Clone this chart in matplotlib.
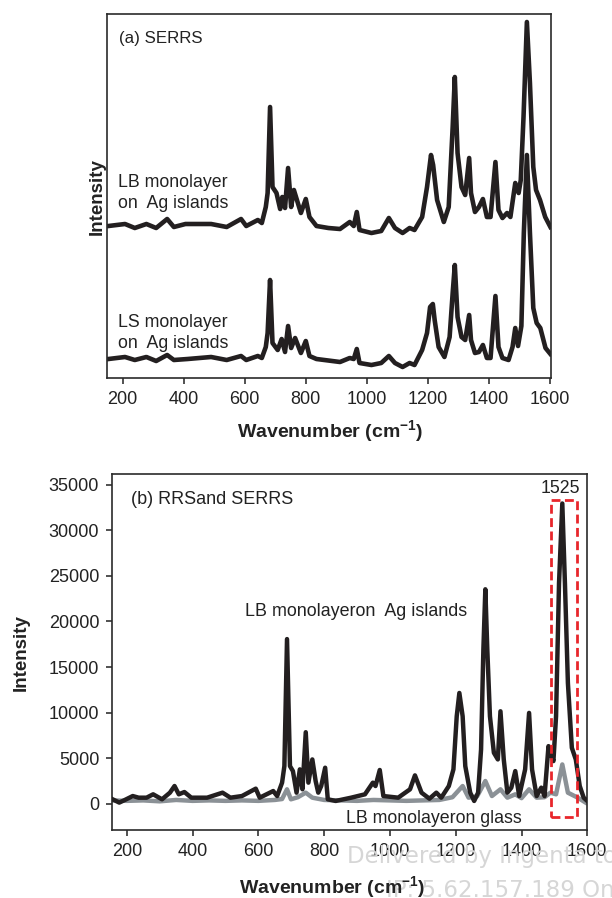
import matplotlib
matplotlib.use("Agg")
import matplotlib.pyplot as plt
from matplotlib.patches import Rectangle

plt.rcParams['font.family'] = ['Liberation Sans', 'DejaVu Sans']
plt.rcParams['mathtext.fontset'] = 'custom'
plt.rcParams['mathtext.rm'] = 'Liberation Sans'
plt.rcParams['mathtext.bf'] = 'Liberation Sans:bold'

# ---------------- data: panel (a) SERRS (arbitrary intensity units) ----------------
a_lb_wn = [154, 208, 240, 278, 310, 346, 368, 406, 490, 541, 588, 605, 643, 656, 669,
           675, 683, 691, 704, 716, 723, 732, 742, 752, 761, 771, 784, 800, 812, 835,
           874, 912, 944, 957, 967, 976, 1015, 1047, 1072, 1092, 1117, 1140, 1156, 1181, 1197,
           1210, 1217, 1230, 1252, 1268, 1281, 1288, 1297, 1310, 1322, 1335, 1341, 1354, 1367, 1380,
           1393, 1405, 1421, 1431, 1444, 1459, 1470, 1486, 1497, 1504, 1513, 1524, 1534, 1545, 1554,
           1567, 1584, 1601]
a_lb_int = [152, 154, 150, 154, 150, 159, 151, 154, 154, 151, 159, 152, 158, 155, 171,
            185, 271, 191, 185, 169, 181, 170, 210, 171, 188, 178, 165, 179, 161, 152,
            150, 149, 156, 152, 166, 148, 145, 147, 160, 150, 145, 150, 148, 161, 191,
            223, 213, 178, 156, 171, 251, 301, 225, 191, 183, 220, 185, 166, 171, 179,
            161, 161, 216, 168, 160, 165, 161, 195, 185, 198, 261, 356, 295, 211, 188,
            178, 161, 151]

a_ls_wn = [154, 208, 240, 278, 310, 346, 368, 413, 490, 541, 588, 605, 643, 656, 669,
           675, 683, 691, 708, 721, 732, 742, 752, 765, 784, 800, 812, 835, 912, 944,
           957, 967, 976, 1015, 1047, 1072, 1092, 1117, 1140, 1156, 1181, 1197, 1207, 1216, 1222,
           1235, 1254, 1271, 1281, 1288, 1297, 1310, 1322, 1335, 1341, 1354, 1367, 1380, 1393, 1405,
           1421, 1431, 1444, 1464, 1477, 1486, 1495, 1506, 1514, 1524, 1534, 1545, 1556, 1568, 1585,
           1601]
a_ls_int = [19, 21, 18, 21, 17, 23, 18, 19, 21, 18, 22, 18, 22, 20, 31,
            45, 98, 35, 28, 39, 26, 52, 30, 40, 25, 37, 22, 19, 16, 20,
            19, 29, 15, 13, 15, 22, 15, 11, 15, 13, 28, 45, 71, 74, 58,
            31, 21, 41, 85, 113, 61, 41, 38, 63, 38, 25, 26, 33, 20, 20,
            82, 31, 20, 18, 31, 50, 32, 52, 145, 223, 145, 70, 55, 50, 30,
            24]

# ---------------- data: panel (b) RRS and SERRS ----------------
b_ag_wn = [157, 177, 194, 218, 236, 260, 280, 307, 331, 345, 358, 375, 396, 444, 491,
           515, 550, 592, 604, 645, 657, 672, 679, 687, 696, 705, 716, 726, 734, 744,
           752, 764, 774, 782, 791, 803, 811, 835, 882, 924, 948, 956, 969, 980, 1025,
           1061, 1076, 1096, 1120, 1141, 1156, 1179, 1193, 1203, 1211, 1221, 1229, 1244, 1256, 1268,
           1277, 1284, 1290, 1296, 1304, 1316, 1328, 1336, 1346, 1357, 1369, 1381, 1393, 1411, 1423,
           1432, 1446, 1460, 1470, 1482, 1488, 1497, 1505, 1514, 1524, 1532, 1541, 1553, 1565, 1577,
           1589, 1600]
b_ag_int = [470, 110, 400, 830, 650, 650, 1020, 470, 1200, 1930, 1020, 1270, 650, 650, 1200,
            650, 830, 1640, 650, 1380, 830, 2300, 4120, 18070, 4120, 3570, 1200, 3760, 1570, 7840,
            2300, 4850, 2480, 1200, 1930, 3940, 470, 290, 650, 1020, 2300, 1930, 3690, 830, 650,
            1570, 3100, 1200, 540, 1200, 650, 1930, 3760, 9590, 12150, 9590, 4120, 1200, 290, 1200,
            5950, 16900, 23540, 16900, 9590, 5580, 4850, 10140, 4850, 1200, 1750, 3570, 830, 3760, 9960,
            3760, 830, 1750, 830, 6310, 5580, 4670, 9590, 24200, 32960, 24200, 13250, 6130, 4850, 1930,
            650, 290]

b_glass_wn = [157, 200, 250, 300, 350, 400, 450, 500, 550, 600, 650, 672, 687, 699, 720,
              744, 764, 800, 850, 900, 950, 1000, 1050, 1100, 1150, 1190, 1221, 1239, 1265, 1290,
              1310, 1336, 1357, 1381, 1400, 1423, 1446, 1470, 1488, 1505, 1524, 1541, 1571, 1595]
b_glass_int = [350, 300, 350, 250, 400, 300, 350, 300, 350, 300, 400, 500, 1570, 470, 700,
               1200, 650, 400, 350, 300, 400, 350, 300, 350, 400, 700, 1930, 650, 800, 2480,
               830, 1570, 650, 1020, 600, 1570, 650, 700, 1200, 1020, 4300, 1200, 650, 110]

x_ticks = [200, 400, 600, 800, 1000, 1200, 1400, 1600]
y_ticks_b = [0, 5000, 10000, 15000, 20000, 25000, 30000, 35000]
box_range = [1490, 1570]
box_int = [-1500, 33300]

# ---------------- figure ----------------
W, H = 612, 898
fig = plt.figure(figsize=(W / 100, H / 100), dpi=100)

def ax_rect(l, t, r, b):
    return [l / W, 1 - b / H, (r - l) / W, (b - t) / H]

black = '#231f20'
gray = '#8b9196'
frame = '#2a2a2a'
txt = '#222222'
tick_fs = 13

axA = fig.add_axes(ax_rect(107.3, 14, 550.7, 378))
axA.plot(a_lb_wn, a_lb_int, color=black, lw=3.3, solid_joinstyle='round')
axA.plot(a_ls_wn, a_ls_int, color=black, lw=3.3, solid_joinstyle='round')
axA.set_xlim(150, 1602)
axA.set_ylim(0, 364)
axA.set_yticks([])
axA.set_xticks(x_ticks)
axA.tick_params(axis='x', direction='out', length=4, width=1.1, pad=5,
                labelsize=tick_fs, colors=txt)
for s in axA.spines.values():
    s.set_linewidth(1.2)
    s.set_color(frame)
axA.text(188, 334.7, '(a) SERRS', fontsize=12.2, color=txt, va='baseline')
axA.text(186, 191.3, 'LB monolayer', fontsize=12.8, color=txt, va='baseline')
axA.text(186, 169.7, 'on  Ag islands', fontsize=12.8, color=txt, va='baseline')
axA.text(186, 51.3, 'LS monolayer', fontsize=12.8, color=txt, va='baseline')
axA.text(186, 29.7, 'on  Ag islands', fontsize=12.8, color=txt, va='baseline')
fig.text(97.7 / W, 1 - 196.7 / H, 'Intensity', rotation=90, fontsize=13.5,
         fontweight='bold', ha='center', va='center', color=txt)
fig.text(329.7 / W, 1 - 438.3 / H, r'Wavenumber (cm$^{\mathbf{-1}}$)', fontsize=14,
         fontweight='bold', ha='center', va='baseline', color=txt, zorder=5)

axB = fig.add_axes(ax_rect(111.7, 474, 587.3, 830))
axB.plot(b_glass_wn, b_glass_int, color=gray, lw=3.2, solid_joinstyle='round', zorder=2)
axB.plot(b_ag_wn, b_ag_int, color=black, lw=3.2, solid_joinstyle='round', zorder=3)
axB.set_xlim(154, 1600)
axB.set_ylim(-2900, 36200)
axB.set_xticks(x_ticks)
axB.set_yticks(y_ticks_b)
axB.tick_params(direction='out', length=4, width=1.1, pad=5,
                labelsize=tick_fs, colors=txt)
for s in axB.spines.values():
    s.set_linewidth(1.2)
    s.set_color(frame)
axB.add_patch(Rectangle((box_range[0], box_int[0]), box_range[1] - box_range[0],
                        box_int[1] - box_int[0], fill=False, edgecolor='#e8262b',
                        lw=2.0, linestyle=(0, (3.2, 1.6)), zorder=4))
axB.text(212.5, 32880, '(b) RRSand SERRS', fontsize=13, color=txt, va='baseline')
axB.text(559.6, 20650, 'LB monolayeron  Ag islands', fontsize=12.9, color=txt,
         va='baseline')
axB.text(867, -2160, 'LB monolayeron glass', fontsize=12.8, color=txt, va='baseline')
axB.text(1518.5, 34120, '1525', fontsize=12.8, color=txt, va='baseline', ha='center')
fig.text(21.5 / W, 1 - 653 / H, 'Intensity', rotation=90, fontsize=13.5,
         fontweight='bold', ha='center', va='center', color=txt)

# watermark
fig.text(347 / W, 1 - 863 / H, 'Delivered by Ingenta to', fontsize=16.5,
         family='DejaVu Sans', color='#d6d6d6', va='baseline', zorder=0)
fig.text(386 / W, 1 - 897 / H, 'IP: 5.62.157.189 On:', fontsize=16.5,
         family='DejaVu Sans', color='#d6d6d6', va='baseline', zorder=0)
fig.text(331.7 / W, 1 - 894.3 / H, r'Wavenumber (cm$^{\mathbf{-1}}$)', fontsize=14,
         fontweight='bold', ha='center', va='baseline', color=txt, zorder=5)

fig.savefig('out.png', dpi=100)
